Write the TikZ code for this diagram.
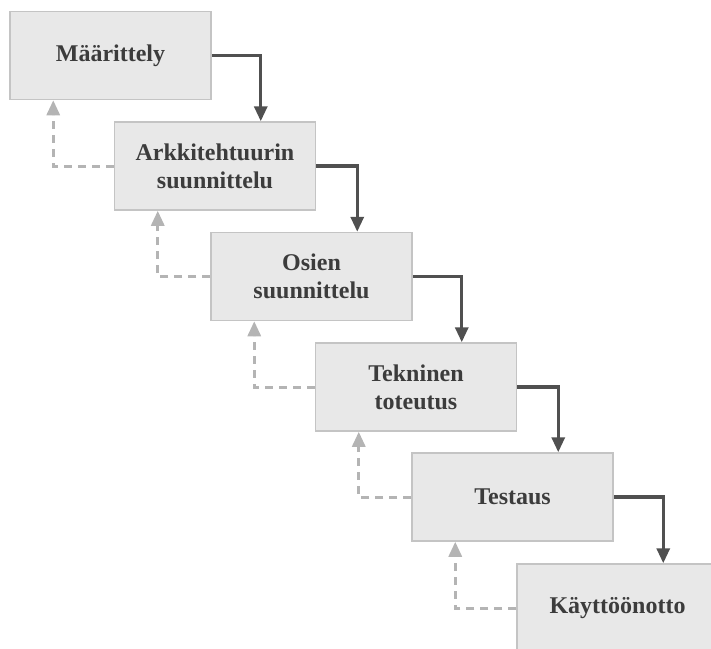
\documentclass[tikz,border=0pt]{standalone}
\usepackage{fontspec}
\setmainfont{Liberation Serif}
\usetikzlibrary{arrows.meta,calc}
\definecolor{boxfill}{HTML}{E8E8E8}
\definecolor{boxdraw}{HTML}{C4C4C4}
\definecolor{textcol}{HTML}{3C3C3C}
\definecolor{flowcol}{HTML}{505050}
\definecolor{backcol}{HTML}{B4B4B4}
\begin{document}
\begin{tikzpicture}[x=1pt,y=-1pt,
  box/.style={draw=boxdraw, fill=boxfill, line width=1.5pt, minimum width=201pt, minimum height=88pt,
    inner sep=0pt, align=center, text=textcol, font=\bfseries\fontsize{24}{28}\selectfont},
  flow/.style={draw=flowcol, line width=3.2pt, -{Triangle[width=13pt,length=15pt]}},
  back/.style={draw=backcol, line width=3pt, dash pattern=on 8pt off 6pt, -{Triangle[width=13pt,length=15pt]}}]
\useasboundingbox (0,0) rectangle (711,648);
\node[box] (b1) at (110.5,55.5) {Määrittely};
\node[box] (b2) at (215,166) {Arkkitehtuurin\\suunnittelu};
\node[box] (b3) at (311.5,276.5) {Osien\\suunnittelu};
\node[box] (b4) at (416,387) {Tekninen\\toteutus};
\node[box] (b5) at (512.5,497) {Testaus};
\node[box] (b6) at (617.5,608) {Käyttöönotto};
\foreach \a/\b in {b1/b2,b2/b3,b3/b4,b4/b5,b5/b6}{
  \draw[flow] (\a.east) -| ($(\b.north west)+(147,0)$);
  \draw[back] (\b.west) -| ($(\a.south west)+(44,0)$);
}
\end{tikzpicture}
\end{document}
